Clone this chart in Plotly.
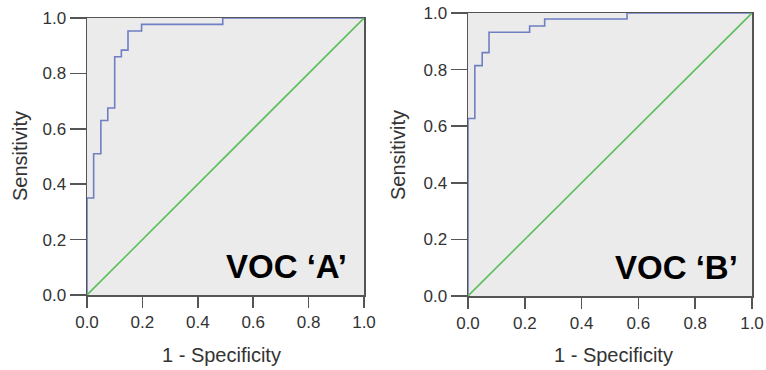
import plotly.graph_objects as go

# ROC curve A (step points: 1 - specificity, sensitivity)
roc_a_fpr = [0.0, 0.0, 0.024, 0.05, 0.075, 0.1, 0.124, 0.148, 0.197, 0.49, 1.0]
roc_a_tpr = [0.0, 0.35, 0.51, 0.63, 0.675, 0.86, 0.884, 0.953, 0.977, 1.0, 1.0]

# ROC curve B
roc_b_fpr = [0.0, 0.0, 0.024, 0.05, 0.074, 0.217, 0.27, 0.56, 1.0]
roc_b_tpr = [0.0, 0.627, 0.814, 0.86, 0.932, 0.954, 0.979, 1.0, 1.0]

ref_line = [0.0, 1.0]
tick_vals = [0.0, 0.2, 0.4, 0.6, 0.8, 1.0]
tick_text = ["0.0", "0.2", "0.4", "0.6", "0.8", "1.0"]
panel_labels = ["VOC \u2018A\u2019", "VOC \u2018B\u2019"]
x_title = "1 - Specificity"
y_title = "Sensitivity"

W, H = 766, 370
def px(x):
    return x / W
def py(y):
    return 1 - y / H

ROC_COLOR = "#6f7fc4"
DIAG_COLOR = "#5cbf5c"
AXIS_COLOR = "#555555"
FONT = "Liberation Sans, Arial, sans-serif"

fig = go.Figure()

fig.add_trace(go.Scatter(x=roc_a_fpr, y=roc_a_tpr, mode="lines", line=dict(color=ROC_COLOR, width=1.6, shape="hv"),
                         xaxis="x", yaxis="y", showlegend=False))
fig.add_trace(go.Scatter(x=ref_line, y=ref_line, mode="lines", line=dict(color=DIAG_COLOR, width=1.6),
                         xaxis="x", yaxis="y", showlegend=False))
fig.add_trace(go.Scatter(x=roc_b_fpr, y=roc_b_tpr, mode="lines", line=dict(color=ROC_COLOR, width=1.6, shape="hv"),
                         xaxis="x2", yaxis="y2", showlegend=False))
fig.add_trace(go.Scatter(x=ref_line, y=ref_line, mode="lines", line=dict(color=DIAG_COLOR, width=1.6),
                         xaxis="x2", yaxis="y2", showlegend=False))

def xaxis_cfg(domain, anchor):
    return dict(domain=domain, anchor=anchor, range=[0, 1], tickvals=tick_vals, ticktext=tick_text,
                ticks="outside", ticklen=11, tickwidth=1.5, tickcolor=AXIS_COLOR,
                showline=True, linecolor=AXIS_COLOR, linewidth=1.5, mirror=True,
                showgrid=False, zeroline=False, layer="below traces", automargin=False,
                ticklabeloverflow="allow",
                tickfont=dict(family=FONT, size=17, color="#333333"), fixedrange=True)

def yaxis_cfg(domain, anchor):
    return dict(domain=domain, anchor=anchor, range=[0, 1], tickvals=tick_vals, ticktext=tick_text,
                ticks="outside", ticklen=16, tickwidth=1.5, tickcolor=AXIS_COLOR,
                showline=True, linecolor=AXIS_COLOR, linewidth=1.5, mirror=True,
                showgrid=False, zeroline=False, layer="below traces", automargin=False,
                ticklabeloverflow="allow",
                tickfont=dict(family=FONT, size=17, color="#333333"), fixedrange=True)

fig.update_layout(
    template="none",
    width=W, height=H,
    margin=dict(l=0, r=0, t=0, b=0, autoexpand=False),
    paper_bgcolor="white",
    plot_bgcolor="#ebebeb",
    hovermode=False,
    xaxis=xaxis_cfg([px(87), px(364)], "y"),
    yaxis=yaxis_cfg([py(295), py(18)], "x"),
    xaxis2=xaxis_cfg([px(468), px(752)], "y2"),
    yaxis2=yaxis_cfg([py(296), py(13)], "x2"),
)

annotations = [
    dict(x=px(20), y=py(156), text=y_title, textangle=-90),
    dict(x=px(398), y=py(155), text=y_title, textangle=-90),
    dict(x=px(221), y=py(355), text=x_title),
    dict(x=px(613), y=py(355), text=x_title),
]
for a in annotations:
    a.update(xref="paper", yref="paper", showarrow=False, xanchor="center", yanchor="middle",
             font=dict(family=FONT, size=20, color="#333333"))

annotations.append(dict(x=px(286), y=py(266), text="<b>" + panel_labels[0] + "</b>", xref="paper", yref="paper",
                        showarrow=False, xanchor="center", yanchor="middle",
                        font=dict(family=FONT, size=33, color="black")))
annotations.append(dict(x=px(676), y=py(267), text="<b>" + panel_labels[1] + "</b>", xref="paper", yref="paper",
                        showarrow=False, xanchor="center", yanchor="middle",
                        font=dict(family=FONT, size=33, color="black")))
fig.update_layout(annotations=annotations)

fig.write_html("out.html",
               config={"displayModeBar": False, "staticPlot": True},
               post_script="document.body.style.margin='0';document.body.style.overflow='hidden';")
